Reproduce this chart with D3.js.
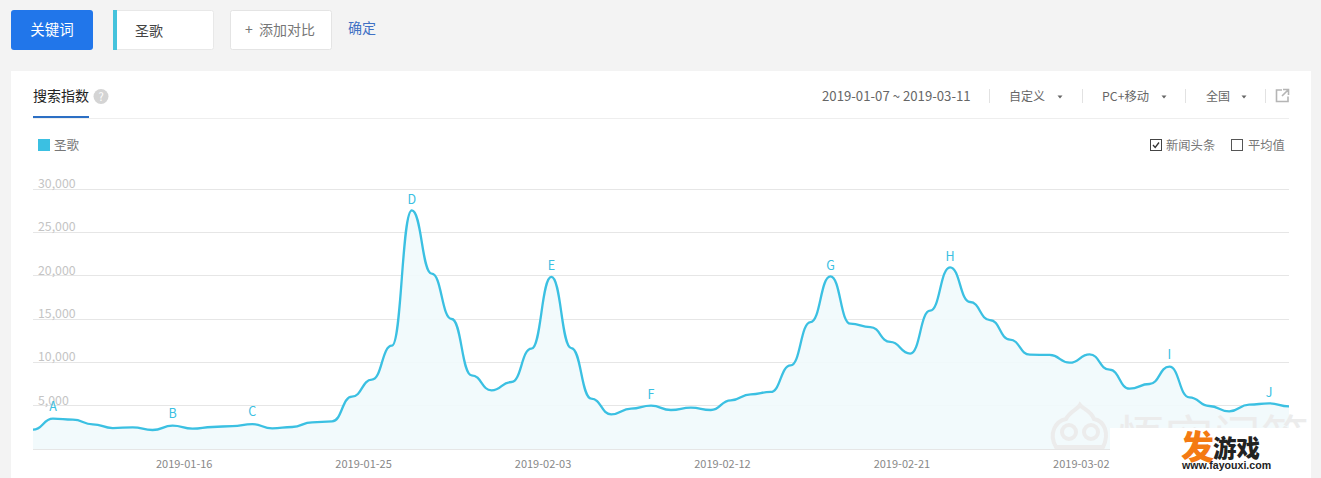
<!DOCTYPE html>
<html><head><meta charset="utf-8">
<script src="https://cdn.jsdelivr.net/npm/d3@7"></script>
<style>html,body{margin:0;padding:0;background:#f3f3f3;overflow:hidden}svg{display:block}
text{font-family:"Noto Sans CJK SC","Noto Sans",sans-serif}</style></head><body>
<svg id="c" width="1321" height="478"></svg>
<script>
const values=[2230,3500,3385,2850,2420,2500,2190,2690,2350,2540,2650,2880,2385,2540,3080,3190,6040,8000,11920,27540,20230,15000,8500,6770,7730,11580,19850,11650,5810,4000,4650,5000,4500,4770,4500,5620,6310,6580,9650,14650,19920,14460,14060,12350,11000,15960,20960,16960,14880,12620,10880,10850,9960,10920,9150,6960,7500,9500,5960,4960,4350,5115,5270,4920];
const yTicks=[5000,10000,15000,20000,25000,30000];
const xTickIndex=[9,18,27,36,45,54];
const xTickLabels=["2019-01-16","2019-01-25","2019-02-03","2019-02-12","2019-02-21","2019-03-02"];
const annIndex=[1,7,11,19,26,31,40,46,57,62];
const annLabels=["A","B","C","D","E","F","G","H","I","J"];
const annGap=[10,10,10,8,9,9,8,8,10,8];
const keyword="圣歌";
const C="#3bc0e2";

const svg=d3.select("#c");
const txt=(x,y,s,size,fill,anchor)=>svg.append("text").attr("x",x).attr("y",y).attr("font-size",size).attr("fill",fill).attr("text-anchor",anchor||"start").text(s);

// top buttons
svg.append("rect").attr("x",11).attr("y",10).attr("width",82).attr("height",40).attr("rx",3).attr("fill","#2176ea");
txt(52,35,"关键词",14.5,"#fff","middle");
svg.append("rect").attr("x",113.5).attr("y",10.5).attr("width",100).attr("height",39).attr("rx",2).attr("fill","#fff").attr("stroke","#e8e8e8");
svg.append("rect").attr("x",113).attr("y",10).attr("width",4).attr("height",40).attr("fill","#45c3dc");
txt(135,36,keyword,14,"#444");
svg.append("rect").attr("x",230.5).attr("y",10.5).attr("width",101).attr("height",39).attr("rx",2).attr("fill","#fff").attr("stroke","#e4e4e4");
txt(245,35,"+",14,"#777");
txt(259,35,"添加对比",14,"#777");
txt(348,33,"确定",14,"#3f71c4");

// card
svg.append("rect").attr("x",11).attr("y",71).attr("width",1300).attr("height",407).attr("fill","#fff");
txt(33,101,"搜索指数",14,"#222");
svg.append("circle").attr("cx",101).attr("cy",96.5).attr("r",7.5).attr("fill","#d4d4d4");
txt(101,101,"?",11,"#fff","middle");
svg.append("line").attr("x1",33).attr("x2",1289).attr("y1",118.5).attr("y2",118.5).attr("stroke","#eeeeee");
svg.append("rect").attr("x",33).attr("y",116).attr("width",56).attr("height",2).attr("fill","#2c6fc4");

// header controls
txt(822,101,"2019-01-07 ~ 2019-03-11",13.2,"#666");
txt(1009,101,"自定义",12,"#666");
txt(1102,101,"PC+移动",12.3,"#666");
txt(1206,101,"全国",12,"#666");
[[1060],[1164],[1244]].forEach(([x])=>svg.append("path").attr("d",`M${x-2.5},95.5h5l-2.5,3z`).attr("fill","#666"));
[989,1082,1185,1265].forEach(x=>svg.append("line").attr("x1",x+.5).attr("x2",x+.5).attr("y1",89).attr("y2",103).attr("stroke","#e2e2e2"));
svg.append("path").attr("d","M1282,90h-5.5v11.5h11.5v-5M1283,89.5h5.5v5.5M1288,90l-6,6").attr("fill","none").attr("stroke","#b5b5b5").attr("stroke-width",1.6);

// legend
svg.append("rect").attr("x",38).attr("y",139).attr("width",12).attr("height",12).attr("fill",C);
txt(54,150,keyword,12.5,"#777");
svg.append("rect").attr("x",1150.5).attr("y",139.5).attr("width",11).attr("height",11).attr("fill","#fff").attr("stroke","#444");
svg.append("path").attr("d","M1153,145l2.2,2.5l3.8,-5").attr("fill","none").attr("stroke","#333").attr("stroke-width",1.3);
txt(1166,149.5,"新闻头条",12.3,"#777");
svg.append("rect").attr("x",1231.5).attr("y",139.5).attr("width",11).attr("height",11).attr("fill","#fff").attr("stroke","#555");
txt(1248,149.5,"平均值",12.3,"#777");

// chart
const x=d3.scaleLinear().domain([0,values.length-1]).range([33,1289]);
const y=d3.scaleLinear().domain([0,30000]).range([449,189]);
const gy=svg.append("g");
[0,...yTicks].forEach(t=>gy.append("line").attr("x1",33).attr("x2",1289).attr("y1",Math.floor(y(t))+.5).attr("y2",Math.floor(y(t))+.5).attr("stroke","#e6e6e6"));
yTicks.forEach(t=>txt(38,y(t)-1,d3.format(",")(t),12.3,"#c4c4c4"));
const curve=d3.curveBumpX;
svg.append("path").datum(values).attr("fill","#f1f9fc").attr("fill-opacity",.9)
  .attr("d",d3.area().x((d,i)=>x(i)).y0(y(0)).y1(d=>y(d)).curve(curve));
svg.append("path").datum(values).attr("fill","none").attr("stroke",C).attr("stroke-width",2.3)
  .attr("d",d3.line().x((d,i)=>x(i)).y(d=>y(d)).curve(curve));
xTickIndex.forEach((t,i)=>txt(x(t),468,xTickLabels[i],11,"#888","end"));
annIndex.forEach((t,i)=>txt(x(t),y(values[t])-annGap[i]+2,annLabels[i],12.5,C,"middle"));
// watermark
const wm=svg.append("g").attr("fill","none").attr("stroke","#ececec").attr("stroke-width",4);
wm.append("path").attr("d","M1056,447c-8,-14 0,-26 10,-28c4,-8 12,-10 14,-14c3,4 11,6 14,14c10,2 16,14 9,28z");
wm.append("circle").attr("cx",1069).attr("cy",432).attr("r",7);
wm.append("circle").attr("cx",1091).attr("cy",432).attr("r",7);
txt(1117,455,"悟空问答",48,"#ececec");
svg.append("rect").attr("x",1110).attr("y",428).attr("width",201).attr("height",50).attr("fill","#fff");
txt(1181,459,"发",33,"#f47a12").attr("font-weight","900");
txt(1213,457,"游戏",23.5,"#222").attr("font-weight","900");
txt(1182,469,"www.fayouxi.com",10.6,"#222").attr("font-weight","700").style("font-family","'Liberation Sans'");
</script></body></html>
